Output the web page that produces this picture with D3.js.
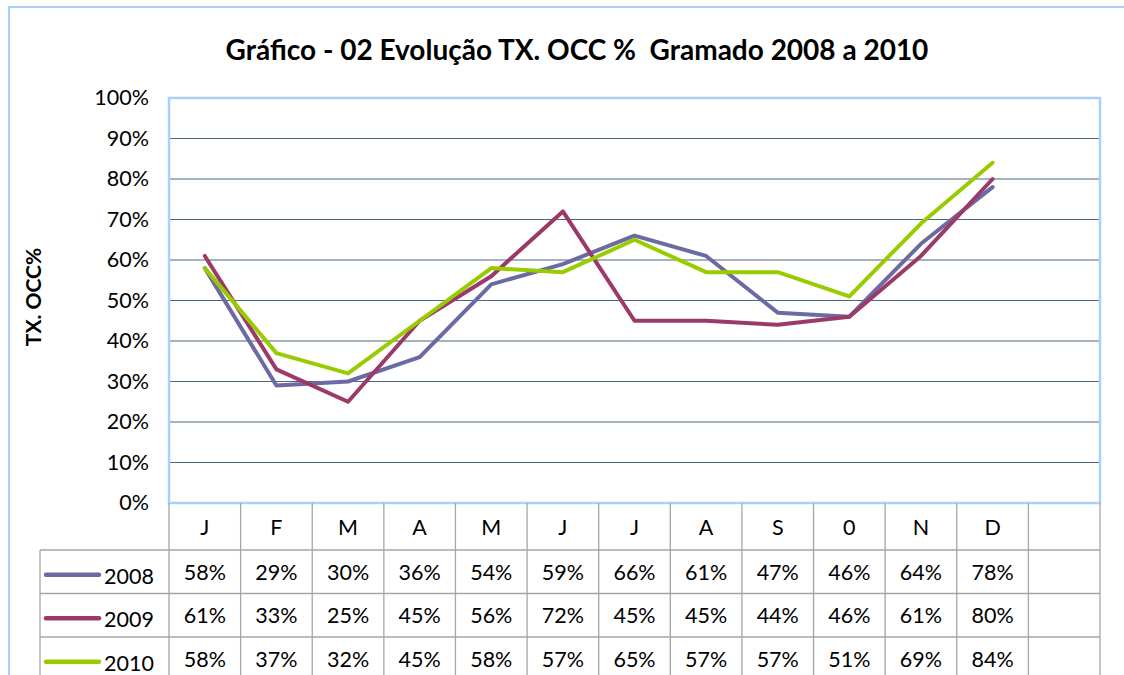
<!DOCTYPE html>
<html>
<head>
<meta charset="utf-8">
<script src="https://cdn.jsdelivr.net/npm/d3@7"></script>
<style>
  body { margin: 0; background: #fff; }
  svg { display: block; font-family: Lato, "Open Sans", sans-serif; }
</style>
</head>
<body>
<div id="chart"></div>
<script>
// months (the last column is left empty, as in the source sheet)
var months = ["J", "F", "M", "A", "M", "J", "J", "A", "S", "0", "N", "D", ""];
var years = ["2008", "2009", "2010"];
var occ2008 = [58, 29, 30, 36, 54, 59, 66, 61, 47, 46, 64, 78];
var occ2009 = [61, 33, 25, 45, 56, 72, 45, 45, 44, 46, 61, 80];
var occ2010 = [58, 37, 32, 45, 58, 57, 65, 57, 57, 51, 69, 84];
var yTicks = [0, 10, 20, 30, 40, 50, 60, 70, 80, 90, 100];
var colors = ["#6b6aa3", "#9b3a68", "#99cc00"];

var series = [occ2008, occ2009, occ2010];

var W = 1124, H = 675;
var plot = { left: 169, top: 98, right: 1100, bottom: 503 };
var rowH = 43.5, headH = 47, tableLeft = 40;
var fs = "21.5px";

var svg = d3.select("#chart").append("svg")
    .attr("width", W)
    .attr("height", H);

// chart frame
svg.append("path")
    .attr("d", "M9,676 L9,7 L1124,7")
    .style("fill", "none")
    .style("stroke", "#a8d0f8")
    .style("stroke-width", 2);

svg.append("text")
    .attr("x", 577)
    .attr("y", 60)
    .attr("text-anchor", "middle")
    .style("font-size", "28px")
    .style("font-weight", "bold")
    .style("white-space", "pre")
    .text("Gráfico - 02 Evolução TX. OCC %  Gramado 2008 a 2010");

var x = d3.scaleBand()
    .domain(d3.range(months.length))
    .range([plot.left, plot.right]);

var y = d3.scaleLinear()
    .domain([0, 100])
    .range([plot.bottom, plot.top]);

// horizontal gridlines
svg.selectAll("line.grid")
    .data(yTicks.filter(function(d) { return d > 0 && d < 100; }))
    .enter()
    .append("line")
    .attr("class", "grid")
    .attr("x1", plot.left)
    .attr("x2", plot.right)
    .attr("y1", function(d) { return y(d); })
    .attr("y2", function(d) { return y(d); })
    .style("stroke", "#4a6584")
    .style("stroke-width", 1.2);

// y axis labels
var yAxis = d3.axisLeft(y)
    .tickValues(yTicks)
    .tickFormat(function(d) { return d + "%"; })
    .tickSize(0)
    .tickPadding(20);

var gy = svg.append("g")
    .attr("transform", "translate(" + plot.left + ",0)")
    .call(yAxis);
gy.select(".domain").remove();
gy.selectAll("text")
    .style("font-family", "Lato, sans-serif")
    .style("font-size", fs)
    .style("fill", "#000");

svg.append("text")
    .attr("transform", "translate(41,297) rotate(-90)")
    .attr("text-anchor", "middle")
    .style("font-size", "21px")
    .style("font-weight", "bold")
    .text("TX. OCC%");

// plot frame
svg.append("rect")
    .attr("x", plot.left)
    .attr("y", plot.top)
    .attr("width", plot.right - plot.left)
    .attr("height", plot.bottom - plot.top)
    .style("fill", "none")
    .style("stroke", "#a8d0f8")
    .style("stroke-width", 2.5);

// data table
var tableTop = plot.bottom;
var tableBottom = tableTop + headH + rowH * years.length;
var gridColor = "#a6a6a6";

var tbl = svg.append("g");

// vertical cell borders
tbl.selectAll("line.vcol")
    .data(d3.range(months.length + 1))
    .enter()
    .append("line")
    .attr("class", "vcol")
    .attr("x1", function(i) { return i < months.length ? x(i) : plot.right; })
    .attr("x2", function(i) { return i < months.length ? x(i) : plot.right; })
    .attr("y1", tableTop)
    .attr("y2", tableBottom + 5)
    .style("stroke", gridColor)
    .style("stroke-width", 1.3);

tbl.append("line")
    .attr("x1", tableLeft).attr("x2", tableLeft)
    .attr("y1", tableTop + headH).attr("y2", tableBottom + 5)
    .style("stroke", gridColor).style("stroke-width", 1.3);

// horizontal cell borders
tbl.selectAll("line.hrow")
    .data(d3.range(years.length))
    .enter()
    .append("line")
    .attr("class", "hrow")
    .attr("x1", tableLeft)
    .attr("x2", plot.right)
    .attr("y1", function(i) { return tableTop + headH + i * rowH; })
    .attr("y2", function(i) { return tableTop + headH + i * rowH; })
    .style("stroke", gridColor)
    .style("stroke-width", 1.3);

// month header
tbl.selectAll("text.month")
    .data(months)
    .enter()
    .append("text")
    .attr("class", "month")
    .attr("x", function(d, i) { return x(i) + x.bandwidth() / 2; })
    .attr("y", tableTop + headH / 2 + 8)
    .attr("text-anchor", "middle")
    .style("font-size", fs)
    .text(function(d) { return d; });

// value rows
series.forEach(function(vals, s) {
    var rowY = tableTop + headH + s * rowH;
    tbl.selectAll("text.val" + s)
        .data(vals)
        .enter()
        .append("text")
        .attr("class", "val" + s)
        .attr("x", function(d, i) { return x(i) + x.bandwidth() / 2; })
        .attr("y", rowY + rowH / 2 + 8)
        .attr("text-anchor", "middle")
        .style("font-size", fs)
        .text(function(d) { return d + "%"; });

    // legend key
    tbl.append("line")
        .attr("x1", 46).attr("x2", 99)
        .attr("y1", rowY + rowH / 2 + 3).attr("y2", rowY + rowH / 2 + 3)
        .style("stroke", colors[s])
        .style("stroke-width", 4.5)
        .style("stroke-linecap", "round");
    tbl.append("text")
        .attr("x", 104)
        .attr("y", rowY + rowH / 2 + 12)
        .style("font-size", fs)
        .text(years[s]);
});

// lines
var line = d3.line()
    .x(function(d, i) { return x(i) + x.bandwidth() / 2; })
    .y(function(d) { return y(d); });

svg.selectAll("path.series")
    .data(series)
    .enter()
    .append("path")
    .attr("class", "series")
    .attr("d", line)
    .style("fill", "none")
    .style("stroke", function(d, i) { return colors[i]; })
    .style("stroke-width", 4)
    .style("stroke-linejoin", "round")
    .style("stroke-linecap", "round");
</script>
</body>
</html>
